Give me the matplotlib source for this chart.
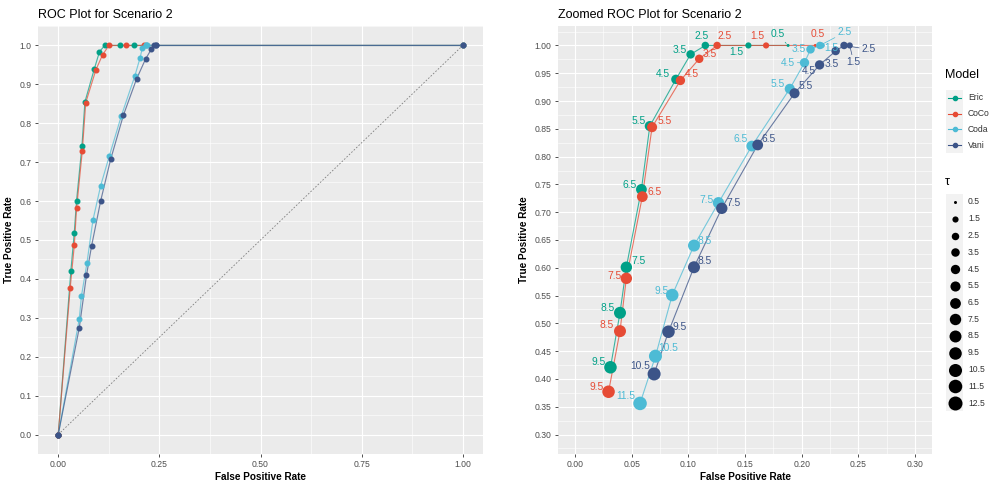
import numpy as np
import matplotlib.pyplot as plt
from matplotlib.patches import Rectangle
from matplotlib.ticker import MultipleLocator, FormatStrFormatter

plt.rcParams['font.family'] = ['Liberation Sans', 'DejaVu Sans']

# thresholds; 0 and 13 are the all-positive / all-negative ends of each ROC curve
TAU = [0.0, 0.5, 1.5, 2.5, 3.5, 4.5, 5.5, 6.5, 7.5, 8.5, 9.5, 10.5, 11.5, 12.5, 13.0]
TAU_LEGEND = [0.5, 1.5, 2.5, 3.5, 4.5, 5.5, 6.5, 7.5, 8.5, 9.5, 10.5, 11.5, 12.5]

MODELS = ["Eric", "CoCo", "Coda", "Vani"]
COLORS = ["#00A087", "#E64B35", "#4DBBD5", "#3C5488"]

eric_fpr = [1.0, 0.188, 0.153, 0.115, 0.102, 0.089, 0.066, 0.0586, 0.0453, 0.0397, 0.0313, 0.0, 0.0, 0.0, 0.0]
eric_tpr = [1.0, 1.0, 1.0, 1.0, 0.984, 0.939, 0.855, 0.741, 0.601, 0.519, 0.421, 0.0, 0.0, 0.0, 0.0]
coco_fpr = [1.0, 0.212, 0.1686, 0.1254, 0.1096, 0.093, 0.068, 0.0594, 0.0453, 0.0397, 0.0296, 0.0, 0.0, 0.0, 0.0]
coco_tpr = [1.0, 1.0, 1.0, 1.0, 0.976, 0.937, 0.853, 0.728, 0.581, 0.486, 0.377, 0.0, 0.0, 0.0, 0.0]
coda_fpr = [1.0, 0.219, 0.2175, 0.216, 0.2078, 0.2025, 0.1895, 0.156, 0.1266, 0.105, 0.0858, 0.071, 0.0574, 0.052, 0.0]
coda_tpr = [1.0, 1.0, 1.0, 1.0, 0.993, 0.969, 0.922, 0.819, 0.717, 0.640, 0.551, 0.441, 0.356, 0.297, 0.0]
vani_fpr = [1.0, 0.2424, 0.2424, 0.2374, 0.230, 0.2158, 0.1937, 0.1612, 0.1295, 0.105, 0.0825, 0.0698, 0.052, 0.0, 0.0]
vani_tpr = [1.0, 1.0, 1.0, 1.0, 0.990, 0.965, 0.914, 0.821, 0.707, 0.601, 0.485, 0.409, 0.274, 0.0, 0.0]

FPR = [eric_fpr, coco_fpr, coda_fpr, vani_fpr]
TPR = [eric_tpr, coco_tpr, coda_tpr, vani_tpr]

# repel-style label placement (pixel offsets from the point, optional segment)
LABEL_POS = [
    {0.5: (-10, 11, True), 1.5: (-12, -7, False), 2.5: (-4, 9, False), 3.5: (-11, 4, False),
     4.5: (-13, 5, False), 5.5: (-11, 5, False), 6.5: (-12, 4, False), 7.5: (12, 6, False),
     8.5: (-12, 5, False), 9.5: (-12, 5, False)},
    {0.5: (2, 11, False), 1.5: (-9, 9, False), 2.5: (8, 9, False), 3.5: (11, 5, False),
     4.5: (11, 6, False), 5.5: (13, 6, False), 6.5: (12, 5, False), 7.5: (-12, 2, False),
     8.5: (-13, 6, False), 9.5: (-12, 5, False)},
    {1.5: (10, -3, False), 2.5: (25, 13, True), 3.5: (-12, 0, False), 4.5: (-17, 0, True),
     5.5: (-12, 5, False), 6.5: (-11, 7, False), 7.5: (-12, 3, False), 8.5: (11, 5, False),
     9.5: (-11, 4, False), 10.5: (13, 8, False), 11.5: (-14, 7, False)},
    {1.5: (4, -17, True), 2.5: (25, -4, True), 3.5: (-4, -13, False), 4.5: (-11, -6, False),
     5.5: (11, 7, False), 6.5: (11, 6, False), 7.5: (12, 5, False), 8.5: (11, 6, False),
     9.5: (11, 5, False), 10.5: (-14, 8, False)},
]

BG = "#EBEBEB"
TICK_COL = "#4D4D4D"


def point_size(t):
    # area-style scale like ggplot's scale_size, diameter in px -> scatter area in pt^2
    d = 3 + 11 * np.sqrt((np.asarray(t, dtype=float) - 0.5) / 12)
    return (d * 0.72) ** 2


def style_axes(ax, xmaj, ymaj, xfmt, yfmt):
    ax.set_facecolor(BG)
    for s in ax.spines.values():
        s.set_visible(False)
    ax.xaxis.set_major_locator(MultipleLocator(xmaj))
    ax.yaxis.set_major_locator(MultipleLocator(ymaj))
    ax.xaxis.set_minor_locator(MultipleLocator(xmaj / 2))
    ax.yaxis.set_minor_locator(MultipleLocator(ymaj / 2))
    ax.xaxis.set_major_formatter(FormatStrFormatter(xfmt))
    ax.yaxis.set_major_formatter(FormatStrFormatter(yfmt))
    ax.grid(which="major", color="white", linewidth=0.8)
    ax.grid(which="minor", color="white", linewidth=0.4)
    ax.set_axisbelow(True)
    ax.tick_params(which="major", length=2.5, width=0.6, color="#333333",
                   labelsize=6.2, labelcolor=TICK_COL, pad=2)
    ax.tick_params(which="minor", length=0)
    ax.set_xlabel("False Positive Rate", fontsize=7.2, fontweight="bold", labelpad=2)
    ax.set_ylabel("True Positive Rate", fontsize=7.2, fontweight="bold", labelpad=4)


W, H = 995, 484
fig = plt.figure(figsize=(W / 100, H / 100), dpi=100)
fig.patch.set_facecolor("white")


def px_axes(x0, y0, x1, y1):
    return fig.add_axes([x0 / W, 1 - y1 / H, (x1 - x0) / W, (y1 - y0) / H])


# ---- left: full ROC ----
ax1 = px_axes(38, 26, 483, 454)
style_axes(ax1, 0.25, 0.1, "%.2f", "%.1f")
ax1.set_xlim(-0.05, 1.05)
ax1.set_ylim(-0.05, 1.05)
ax1.plot([0, 1], [0, 1], color="#7F7F7F", linestyle=(0, (2, 2)), linewidth=0.6, zorder=1)
for fpr, tpr, col in zip(FPR, TPR, COLORS):
    ax1.plot(fpr, tpr, color=col, linewidth=0.85, alpha=0.7, zorder=2)
for fpr, tpr, col in zip(FPR, TPR, COLORS):
    ax1.plot(fpr, tpr, linestyle="none", marker="o", markersize=3.3, color=col, zorder=3)
ax1.set_title("ROC Plot for Scenario 2", loc="left", fontsize=9, pad=6)

# ---- right: zoomed ROC with threshold labels ----
ax2 = px_axes(558, 26, 932, 454)
style_axes(ax2, 0.05, 0.05, "%.2f", "%.2f")
ax2.set_xlim(-0.015, 0.315)
ax2.set_ylim(0.265, 1.035)
ax2.set_title("Zoomed ROC Plot for Scenario 2", loc="left", fontsize=9, pad=6)

tau = np.array(TAU)
masks = []
for fpr, tpr in zip(FPR, TPR):
    f, t = np.array(fpr), np.array(tpr)
    masks.append((f >= 0) & (f <= 0.3) & (t >= 0.3) & (t <= 1.0) & (tau > 0) & (tau < 13))

for fpr, tpr, col, m in zip(FPR, TPR, COLORS, masks):
    ax2.plot(np.array(fpr)[m], np.array(tpr)[m], color=col, linewidth=0.8, alpha=0.75, zorder=2)
for fpr, tpr, col, m in zip(FPR, TPR, COLORS, masks):
    ax2.scatter(np.array(fpr)[m], np.array(tpr)[m], s=point_size(tau[m]), color=col,
                linewidths=0, zorder=3)
for fpr, tpr, col, m, pos in zip(FPR, TPR, COLORS, masks, LABEL_POS):
    for f, t, tv in zip(np.array(fpr)[m], np.array(tpr)[m], tau[m]):
        if tv not in pos:
            continue
        dx, dy, seg = pos[tv]
        ax2.annotate(f"{tv:g}", (f, t), xytext=(dx, dy), textcoords="offset pixels",
                     ha="center", va="center", fontsize=7.4, color=col, zorder=4,
                     arrowprops=dict(arrowstyle="-", color=col, lw=0.5,
                                     shrinkA=0, shrinkB=2) if seg else None)

# ---- legends (drawn in figure pixel space) ----
lax = fig.add_axes([0, 0, 1, 1])
lax.set_xlim(0, W)
lax.set_ylim(H, 0)
lax.set_axis_off()

kx0, kw = 946, 17
lax.text(945, 75, "Model", fontsize=9, va="center", ha="left")
step = 15.7
for i, (name, col) in enumerate(zip(MODELS, COLORS)):
    y = 98 + i * step
    lax.add_patch(Rectangle((kx0, y - step / 2), kw, step, color="#F2F2F2", lw=0))
    lax.plot([kx0 + 2, kx0 + kw - 2], [y, y], color=col, lw=0.8)
    lax.plot([kx0 + kw / 2], [y], marker="o", markersize=3, color=col)
    lax.text(968, y, name, fontsize=6.2, va="center", ha="left", color="#333333")

lax.text(945, 182, "τ", fontsize=9, va="center", ha="left")
step = 16.75
for i, tv in enumerate(TAU_LEGEND):
    y = 202 + i * step
    lax.add_patch(Rectangle((kx0, y - step / 2), kw, step, color="#F2F2F2", lw=0))
    lax.scatter([kx0 + kw / 2], [y], s=point_size(tv), color="black", linewidths=0)
    lax.text(968, y, f"{tv:g}", fontsize=6.2, va="center", ha="left", color="#333333")

fig.savefig("out.png", dpi=100)
